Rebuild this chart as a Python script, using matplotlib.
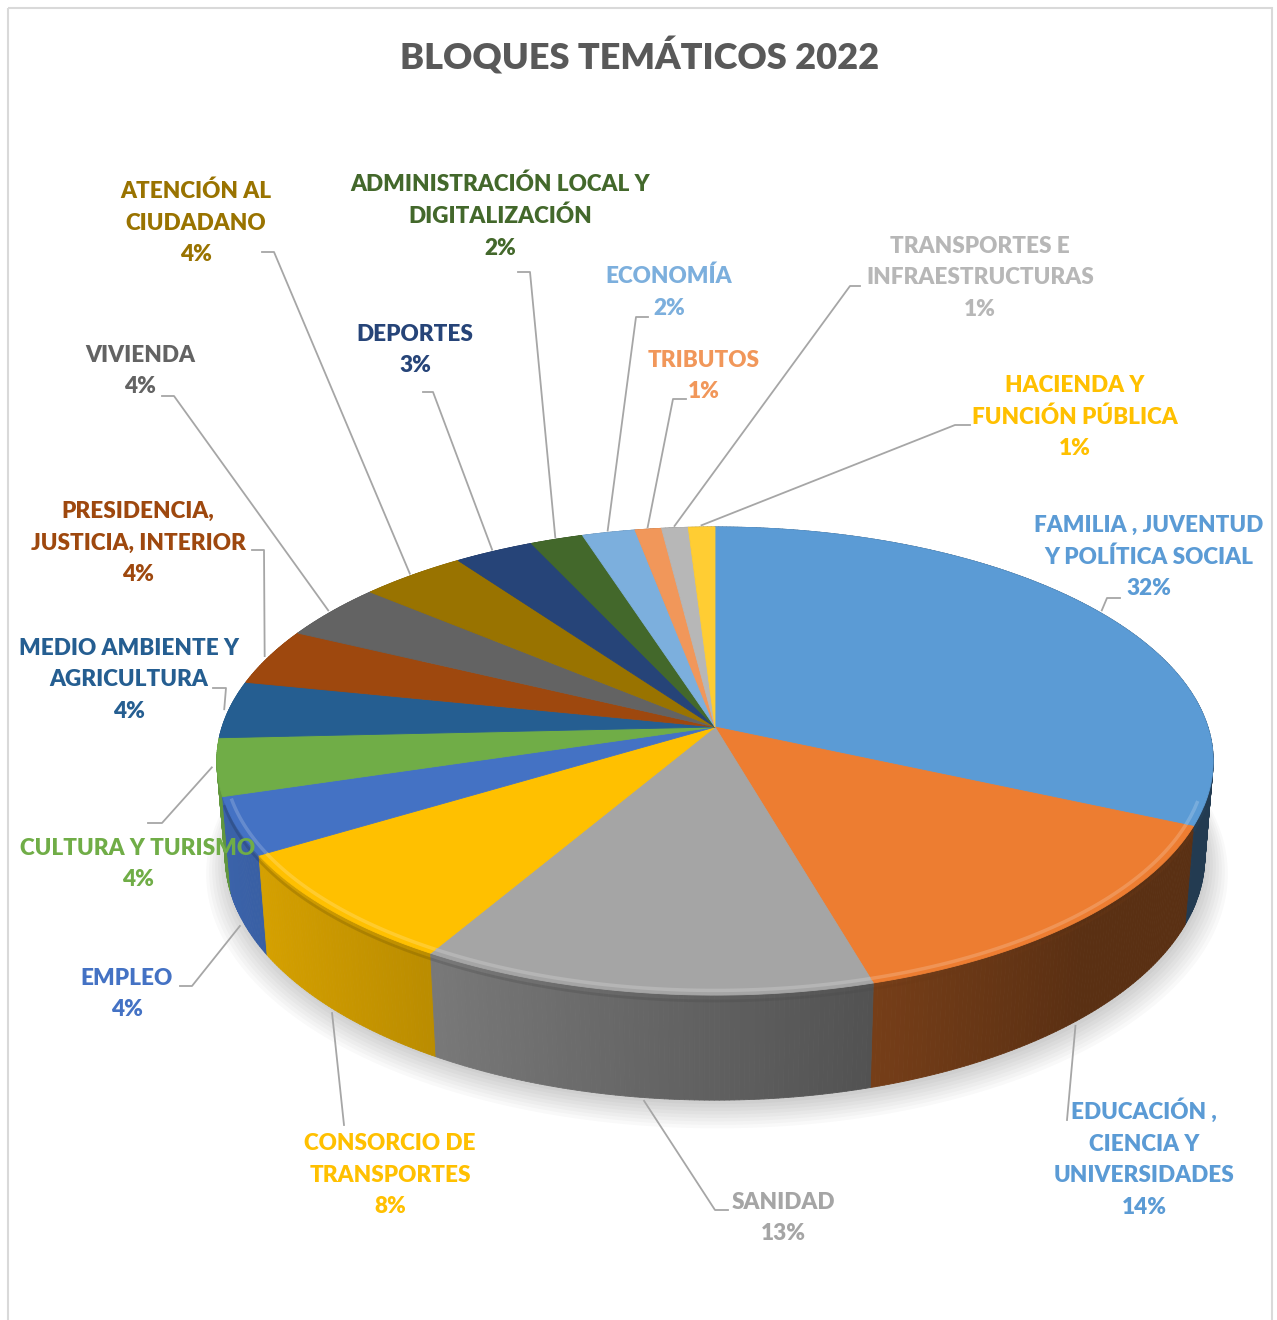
import numpy as np
import matplotlib
matplotlib.use("Agg")
import matplotlib.pyplot as plt
from matplotlib.patches import Polygon, Rectangle
from matplotlib.collections import PolyCollection
from matplotlib.colors import to_rgb

# --- data ---
categories = [
    "FAMILIA , JUVENTUD\nY POLÍTICA SOCIAL",
    "EDUCACIÓN ,\nCIENCIA Y\nUNIVERSIDADES",
    "SANIDAD",
    "CONSORCIO DE\nTRANSPORTES",
    "EMPLEO",
    "CULTURA Y TURISMO",
    "MEDIO AMBIENTE Y\nAGRICULTURA",
    "PRESIDENCIA,\nJUSTICIA, INTERIOR",
    "VIVIENDA",
    "ATENCIÓN AL\nCIUDADANO",
    "DEPORTES",
    "ADMINISTRACIÓN LOCAL Y\nDIGITALIZACIÓN",
    "ECONOMÍA",
    "TRIBUTOS",
    "TRANSPORTES E\nINFRAESTRUCTURAS",
    "HACIENDA Y\nFUNCIÓN PÚBLICA",
]
values = [32, 14, 13, 8, 4, 4, 4, 4, 4, 4, 3, 2, 2, 1, 1, 1]
slice_colors = ["#5B9BD5", "#ED7D31", "#A5A5A5", "#FFC000", "#4472C4", "#70AD47",
                "#255E91", "#9E480E", "#636363", "#997300", "#264478", "#43682B",
                "#7CAFDD", "#F1975A", "#B7B7B7", "#FFCD33"]
label_colors = ["#5B9BD5", "#5B9BD5", "#A5A5A5", "#FFC000", "#4472C4", "#70AD47",
                "#255E91", "#9E480E", "#636363", "#997300", "#264478", "#43682B",
                "#7CAFDD", "#F1975A", "#B7B7B7", "#FFC000"]

# --- layout: label centres and leader-line knee / end points (pixels) ---
label_xy = [(1149, 557), (1144, 1158), (783, 1218), (390, 1175), (127, 994),
            (138, 864), (129, 680), (138, 543), (140, 371), (196, 223),
            (415, 350), (500, 216), (669, 292), (704, 376), (980, 278), (1075, 417)]
leader_knee = [(1107, 598), (1067, 1120), (715, 1210), (344, 1125), (192, 986),
               (162, 823), (226, 688), (264, 550), (174, 396), (274, 252),
               (433, 392), (530, 272), (636, 317), (673, 399), (850, 286), (955, 425)]
leader_end = [(1120, 598), (1067, 1120), (728, 1210), (344, 1125), (180, 986),
              (148, 823), (213, 688), (252, 550), (162, 396), (262, 252),
              (423, 392), (518, 272), (648, 317), (686, 399), (860, 286), (970, 425)]

# perspective camera for the 3-D pie
CX, CY = 715, 727
FOC = 3002.0
DIST = 6.09
TH = np.radians(27.7)
DEPTH = 0.22

FONT = ["Lato", "DejaVu Sans"]


def project(phi, y=0.0, r=1.0):
    X = r * np.sin(phi)
    Z = -r * np.cos(phi)
    d = DIST - y * np.sin(TH) - Z * np.cos(TH)
    u = FOC * X / d
    v = FOC * (Z * np.sin(TH) - y * np.cos(TH)) / d
    return CX + u, CY + v


def shade(color, f):
    return tuple(min(1, c * f) for c in to_rgb(color))


def lighten(color, f):
    return tuple(c + (1 - c) * f for c in to_rgb(color))


fig = plt.figure(figsize=(12.77, 13.2), dpi=100)
ax = fig.add_axes([0, 0, 1, 1])
ax.set_xlim(0, 1277)
ax.set_ylim(1320, 0)
ax.axis("off")

total = float(sum(values))
bounds = np.concatenate([[0], np.cumsum(values)]) / total * 2 * np.pi

# soft shadow under the pie
ring = np.linspace(0, 2 * np.pi, 300)
for k in range(8):
    xs, ys = project(ring, y=-DEPTH, r=1.0 + 0.006 * k)
    ax.fill(xs + 2, ys + 4 + 1.5 * k, color="#000000", alpha=0.025, lw=0, zorder=1)

# outer side walls (far to near)
quads, qcols, qz = [], [], []
for i, v in enumerate(values):
    a0, a1 = bounds[i], bounds[i + 1]
    n = max(2, int(np.degrees(a1 - a0) / 0.5))
    ph = np.linspace(a0, a1, n + 1)
    for p0, p1 in zip(ph[:-1], ph[1:]):
        t0 = project(p0); t1 = project(p1)
        b0 = project(p0, y=-DEPTH); b1 = project(p1, y=-DEPTH)
        quads.append([t0, t1, b1, b0])
        pm = 0.5 * (p0 + p1)
        X = np.sin(pm)
        qcols.append(shade(slice_colors[i], max(0.38, 0.58 - 0.3 * X)))
        qz.append(-np.cos(pm))
order = np.argsort(qz)
pc = PolyCollection([quads[j] for j in order], facecolors=[qcols[j] for j in order],
                    edgecolors=[qcols[j] for j in order], linewidths=0.6, zorder=2)
ax.add_collection(pc)

# top faces
for i, v in enumerate(values):
    ph = np.linspace(bounds[i], bounds[i + 1], max(3, int(np.degrees(bounds[i + 1] - bounds[i]))))
    xs, ys = project(ph)
    pts = np.column_stack([np.r_[CX, xs], np.r_[CY, ys]])
    ax.add_patch(Polygon(pts, closed=True, fc=slice_colors[i], ec=slice_colors[i],
                         lw=0.6, zorder=3))

# bevel highlight along the front rim
for i, v in enumerate(values):
    ph = np.linspace(bounds[i], bounds[i + 1], 60)
    ph = ph[-np.cos(ph) > 0.3]
    if len(ph) < 2:
        continue
    xs, ys = project(ph, r=0.985)
    ax.plot(xs, ys, color=lighten(slice_colors[i], 0.3), lw=2.5, alpha=0.6,
            solid_capstyle="butt", zorder=4)
    xs, ys = project(ph, y=-0.012)
    ax.plot(xs, ys, color=shade(slice_colors[i], 0.45), lw=2, alpha=0.3,
            solid_capstyle="butt", zorder=4)

# labels + leader lines
for i, v in enumerate(values):
    mid = 0.5 * (bounds[i] + bounds[i + 1])
    front = -np.cos(mid) > 0.3
    ax_, ay_ = project(mid, y=-DEPTH if front else 0.0, r=1.01)
    kx, ky = leader_knee[i]
    ex, ey = leader_end[i]
    ax.plot([ax_, kx, ex], [ay_, ky, ey], color="#A6A6A6", lw=1.3, zorder=5)
    pct = f"{v / total * 100:.0f}%"
    lx, ly = label_xy[i]
    ax.text(lx, ly, categories[i] + "\n" + pct, ha="center", va="center",
            fontsize=16.2, fontweight="heavy", family=FONT,
            color=label_colors[i], linespacing=1.62, zorder=6)

ax.text(640, 57, "BLOQUES TEMÁTICOS 2022", ha="center", va="center", fontsize=26,
        fontweight="heavy", family=FONT, color="#595959")

ax.add_patch(Rectangle((8, 8), 1264, 1330, fill=False, ec="#D9D9D9", lw=1.5, zorder=0))

fig.savefig("out.png", dpi=100)
